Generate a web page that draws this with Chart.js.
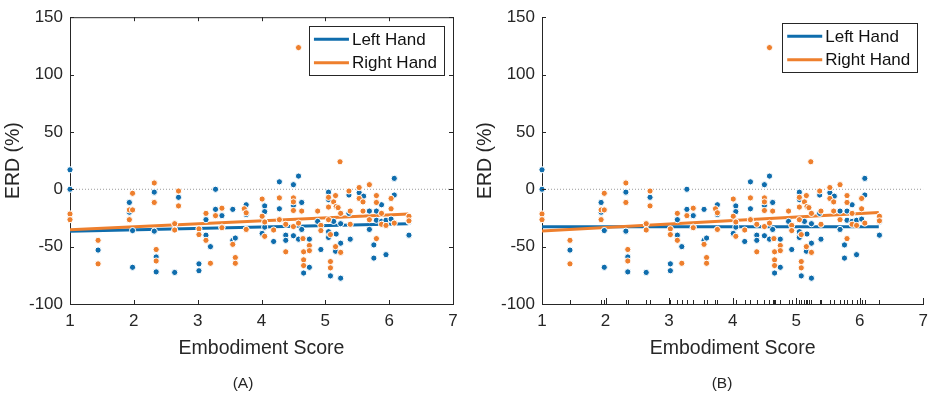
<!DOCTYPE html>
<html>
<head>
<meta charset="utf-8">
<script src="https://cdn.jsdelivr.net/npm/chart.js@4/dist/chart.umd.min.js"></script>
<style>
  body { margin: 0; background: #fff; width: 935px; height: 399px; position: relative; overflow: hidden; }
  .panel { position: absolute; top: 0; height: 399px; }
  .tag { position: absolute; top: 374px; width: 60px; margin-left: -30px; text-align: center;
         font: 15.5px "Liberation Sans", Arial, sans-serif; color: #262626; }
</style>
</head>
<body>
<div class="panel" style="left:0;width:467px"><canvas id="chartA"></canvas></div>
<div class="panel" style="left:472px;width:463px"><canvas id="chartB"></canvas></div>
<div class="tag" style="left:243px">(A)</div>
<div class="tag" style="left:722px">(B)</div>
<script>
// embodiment score / ERD values (same points in both panels)
const leftX = [1.00, 1.00, 1.44, 1.93, 1.93, 1.98, 1.98, 2.32, 2.32, 2.35, 2.35, 2.64, 2.70, 3.02, 3.02,
  3.13, 3.13, 3.20, 3.28, 3.28, 3.38, 3.38, 3.55, 3.55, 3.59, 3.76, 3.76, 4.01, 4.05, 4.05, 4.05, 4.19,
  4.28, 4.28, 4.38, 4.38, 4.50, 4.50, 4.50, 4.58, 4.58, 4.63, 4.63, 4.66, 4.75, 4.75, 4.88, 4.93, 5.05,
  5.05, 5.05, 5.05, 5.08, 5.13, 5.16, 5.17, 5.24, 5.24, 5.24, 5.37, 5.37, 5.39, 5.53, 5.60, 5.69, 5.69,
  5.76, 5.76, 5.80, 5.80, 5.88, 5.88, 5.95, 5.95, 6.03, 6.08, 6.08, 6.31, 6.31];
const leftY = [17, 0, -53, -11.5, -20, -36, -68, -2.5, -36.5, -59, -72, -72.5, -7, -65, -71,
  -26.5, -40, -50, 0, -17.5, -23, -33, -17.5, -44.5, -42.5, -13.5, -22, -38.5, -14.5, -19.5, -33, -45.5,
  6.5, -17, -40, -44.5, 4, -14, -40.5, 11.5, -43.5, -11.5, -35, -73, -43.5, -68, -28, -52.5, -2.5,
  -9, -37, -42, -75.5, -28, -54, -39, -30, -47, -77.5, -5, -21, -43.5, -3, -6, -19, -35,
  -48.5, -60, -19, -27, -13.5, -28, -57, -27, -26, 9.5, -5, -28, -40];

const rightX = [1.00, 1.00, 1.44, 1.44, 1.93, 1.93, 1.98, 1.98, 2.32, 2.32, 2.35, 2.35, 2.64, 2.64, 2.70,
  2.70, 3.02, 3.02, 3.13, 3.13, 3.20, 3.28, 3.38, 3.38, 3.55, 3.59, 3.59, 3.73, 3.76, 3.76, 4.01, 4.01,
  4.05, 4.05, 4.19, 4.28, 4.28, 4.38, 4.38, 4.50, 4.50, 4.50, 4.50, 4.58, 4.58, 4.63, 4.65, 4.66, 4.66,
  4.66, 4.75, 4.75, 4.88, 4.93, 4.93, 5.05, 5.05, 5.05, 5.08, 5.08, 5.08, 5.13, 5.16, 5.16, 5.17, 5.20,
  5.23, 5.24, 5.24, 5.37, 5.39, 5.39, 5.53, 5.53, 5.59, 5.59, 5.69, 5.69, 5.80, 5.80, 5.80, 5.88, 5.88,
  5.95, 6.03, 6.03, 6.08, 6.31, 6.31];
const rightY = [-21.5, -26.5, -44.5, -65, -18, -26.5, -3.5, -18, 5.5, -11.5, -52.5, -62.5, -30, -35.5, -1.5,
  -14.5, -34.5, -39.5, -21, -44.5, -64.5, -23, -16.5, -33.5, -48, -59.5, -64.5, -17, -20.5, -35, -8.5, -23.5,
  -28.5, -41, -35.5, -7.5, -26.5, -30.5, -54.5, -7.5, -11, -18.5, -32.5, 123.5, -29.5, -19, -43, -54.5, -61.5,
  -66.5, -49, -53.5, -19, -31.5, -36, -7, -15.5, -26.5, -39.5, -63, -68.5, -11, -5.5, -50, -15, -16,
  24, -21, -55, -1.5, -19, -30.5, 1.5, -8, -11, -19, 4, -26.5, -5.5, -11.5, -43, -21, -30.5,
  -31.5, -8, -17, -29.5, -23.5, -27.5];

// fitted lines (end points)
const fitX = [1, 6.3];
const fitLeftA = [-36.5, -30];
const fitRightA = [-35.3, -21.5];
const fitLeftB = [-32.7, -32.7];
const fitRightB = [-36.4, -20.2];
const zeroX = [1, 7];
const zeroY = [0, 0];

const seriesNames = ['Left Hand', 'Right Hand'];
const BLUE = '#0f6dad';
const ORANGE = '#ee7f2d';
const AXIS = '#262626';
const FONT = '"Liberation Sans", Arial, sans-serif';

const pts = (xs, ys) => xs.map((x, i) => ({ x, y: ys[i] }));
const rugX = [...new Set(leftX.concat(rightX))];

// box, inward ticks, rug and the boxed legend
const decor = {
  id: 'decor',
  afterDraw(chart, args, o) {
    const { ctx, chartArea: a, scales: { x, y } } = chart;
    ctx.save();
    ctx.strokeStyle = AXIS;
    ctx.lineWidth = 1;
    ctx.beginPath();
    if (o.box) {
      ctx.moveTo(a.left, a.top + 0.5); ctx.lineTo(a.right + 0.5, a.top + 0.5);
      ctx.moveTo(a.right + 0.5, a.top); ctx.lineTo(a.right + 0.5, a.bottom);
    }
    x.ticks.forEach(t => {
      const px = Math.round(x.getPixelForValue(t.value)) + 0.5;
      ctx.moveTo(px, a.bottom); ctx.lineTo(px, a.bottom - o.xTick);
      if (o.box) { ctx.moveTo(px, a.top); ctx.lineTo(px, a.top + o.xTick); }
    });
    y.ticks.forEach(t => {
      const py = Math.round(y.getPixelForValue(t.value)) + 0.5;
      ctx.moveTo(a.left, py); ctx.lineTo(a.left + 4, py);
      if (o.box) { ctx.moveTo(a.right, py); ctx.lineTo(a.right - 4, py); }
    });
    (o.rug || []).forEach(v => {
      const px = Math.round(x.getPixelForValue(v)) + 0.5;
      ctx.moveTo(px, a.bottom); ctx.lineTo(px, a.bottom - 4);
    });
    ctx.stroke();

    // legend
    ctx.font = '17px ' + FONT;
    const textW = Math.max(...seriesNames.map(s => ctx.measureText(s).width));
    const w = 5 + 35 + 3 + textW + 7;
    const h = 49;
    const lx = a.right - o.inset - w;
    const ly = a.top + o.inset;
    ctx.fillStyle = '#fff';
    ctx.fillRect(lx, ly, w, h);
    ctx.strokeStyle = AXIS;
    ctx.strokeRect(Math.round(lx) + 0.5, Math.round(ly) + 0.5, Math.round(w), h);
    [BLUE, ORANGE].forEach((c, i) => {
      const cy = ly + 13 + i * 23.5;
      ctx.strokeStyle = c;
      ctx.lineWidth = 3;
      ctx.beginPath();
      ctx.moveTo(lx + 5, cy); ctx.lineTo(lx + 40, cy);
      ctx.stroke();
      ctx.fillStyle = '#111';
      ctx.textBaseline = 'middle';
      ctx.fillText(seriesNames[i], lx + 43, cy + 1);
    });
    ctx.restore();
  }
};

function makeChart(id, fitL, fitR, opts) {
  return new Chart(document.getElementById(id), {
    type: 'scatter',
    data: {
      datasets: [
        { data: pts(zeroX, zeroY), showLine: true, borderColor: '#9a9a9a', borderWidth: 1,
          borderDash: [1, 2], pointRadius: 0, order: 20 },
        { label: seriesNames[0], data: pts(fitX, fitL), showLine: true, borderColor: BLUE,
          borderWidth: 3, pointRadius: 0, order: 10 },
        { label: seriesNames[1], data: pts(fitX, fitR), showLine: true, borderColor: ORANGE,
          borderWidth: 3, pointRadius: 0, order: 9 },
        { data: pts(leftX, leftY), backgroundColor: BLUE, borderColor: '#fff', borderWidth: 1,
          pointRadius: 3.1, clip: false, order: 2 },
        { data: pts(rightX, rightY), backgroundColor: ORANGE, borderColor: '#fff', borderWidth: 1,
          pointRadius: 3.1, clip: false, order: 1 }
      ]
    },
    options: {
      responsive: true,
      maintainAspectRatio: false,
      animation: false,
      events: [],
      layout: { padding: { left: 0, right: opts.padRight, top: 13, bottom: 39 } },
      plugins: { legend: { display: false }, tooltip: { enabled: false }, decor: opts },
      scales: {
        x: {
          type: 'linear', min: 1, max: 7,
          afterFit: s => { s.height = 56; },
          ticks: { stepSize: 1, padding: 7, color: AXIS, font: { family: FONT, size: 17 } },
          grid: { display: false, drawTicks: false },
          border: { display: true, color: AXIS, width: 1 },
          title: { display: true, text: 'Embodiment Score', color: AXIS, padding: 0,
                   font: { family: FONT, size: 19.5 } }
        },
        y: {
          min: -100, max: 150,
          afterFit: s => { s.width = 70; },
          ticks: { stepSize: 50, padding: 7, color: AXIS, font: { family: FONT, size: 17 } },
          grid: { display: false, drawTicks: false },
          border: { display: true, color: AXIS, width: 1 },
          title: { display: true, text: 'ERD (%)', color: AXIS, padding: { top: 2, bottom: 0 },
                   font: { family: FONT, size: 19.5 } }
        }
      }
    },
    plugins: [decor]
  });
}

makeChart('chartA', fitLeftA, fitRightA, { box: true, xTick: 4, inset: 9, padRight: 14 });
makeChart('chartB', fitLeftB, fitRightB, { box: false, xTick: 6, inset: 6, padRight: 10, rug: rugX });
</script>
</body>
</html>
